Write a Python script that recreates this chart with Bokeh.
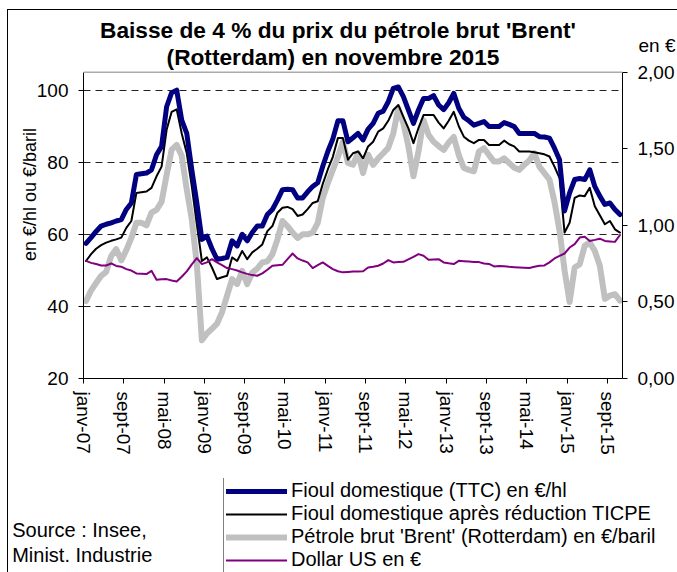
from bokeh.plotting import figure
from bokeh.layouts import column
from bokeh.models import (Range1d, LinearAxis, FixedTicker, CustomJSTickFormatter,
                          Label, Legend, LegendItem, ColumnDataSource, Span)
from bokeh.embed import file_html
from bokeh.resources import INLINE

# ---------------- data (monthly, janv-07 .. nov-15) ----------------
tick_positions = [0, 8, 16, 24, 32, 40, 48, 56, 64, 72, 80, 88, 96, 104]
tick_labels = ["janv-07", "sept-07", "mai-08", "janv-09", "sept-09", "mai-10",
               "janv-11", "sept-11", "mai-12", "janv-13", "sept-13", "mai-14",
               "janv-15", "sept-15"]

fioul_ttc = [57.5, 59.1, 60.8, 62.3, 62.8, 63.2, 63.7, 64.1, 66.9, 68.7,
             76.6, 76.8, 77.0, 77.9, 82.1, 84.4, 95.4, 99.3, 100.0, 91.7,
             88.0, 77.9, 68.7, 58.6, 59.5, 56.0, 53.1, 53.3, 53.6, 58.2,
             56.8, 60.0, 58.2, 60.5, 62.3, 62.3, 65.5, 66.9, 69.5, 72.4,
             72.5, 72.4, 70.1, 70.1, 71.8, 73.3, 74.3, 78.9, 83.0, 86.5,
             91.5, 91.5, 85.7, 86.8, 88.0, 86.2, 89.2, 90.8, 93.6, 94.2,
             96.8, 100.5, 100.9, 98.2, 94.5, 90.8, 94.5, 97.7, 97.7, 98.5,
             95.9, 94.6, 96.5, 99.1, 95.0, 92.5, 91.5, 90.3, 90.8, 91.3,
             89.9, 89.9, 89.9, 91.0, 90.5, 89.9, 88.0, 88.0, 88.0, 88.0,
             87.1, 87.0, 86.7, 83.9, 80.7, 66.5, 71.5, 75.2, 75.5, 75.2,
             77.9, 73.3, 70.6, 68.3, 68.7, 66.9, 65.5]

fioul_reduc = [52.6, 54.5, 56.0, 57.0, 57.7, 58.2, 58.6, 59.1, 61.8, 63.7,
               71.5, 71.7, 71.9, 72.9, 76.1, 78.8, 89.0, 94.0, 94.7, 88.0,
               82.5, 73.3, 62.8, 52.6, 53.6, 50.8, 47.6, 48.1, 48.5, 53.6,
               52.6, 55.4, 53.1, 55.0, 56.0, 57.2, 60.9, 62.3, 66.0, 67.4,
               67.6, 67.0, 65.1, 65.5, 67.0, 68.7, 69.2, 74.0, 78.0, 81.5,
               86.7, 86.7, 80.7, 82.5, 83.0, 81.1, 84.4, 85.7, 88.5, 89.4,
               91.5, 94.5, 95.9, 92.6, 89.4, 85.3, 89.5, 93.1, 93.1, 93.1,
               91.0, 89.4, 91.5, 94.0, 90.0, 87.1, 86.0, 85.3, 86.2, 86.2,
               84.8, 84.8, 84.8, 86.0, 85.0, 84.4, 83.0, 83.0, 83.0, 82.8,
               82.5, 82.2, 81.6, 78.8, 75.6, 60.5, 63.2, 70.1, 70.8, 70.6,
               72.9, 67.8, 65.3, 62.8, 63.7, 61.4, 60.5]

brent = [41.5, 44.4, 46.5, 48.5, 49.6, 54.0, 55.9, 52.8, 55.6, 59.0,
         63.2, 63.2, 62.5, 66.0, 66.8, 69.0, 76.5, 83.5, 84.8, 81.8,
         72.4, 64.1, 51.7, 30.6, 32.5, 33.8, 35.2, 38.4, 43.0, 47.6,
         46.2, 49.9, 46.2, 49.4, 50.5, 52.2, 52.5, 54.5, 58.6, 63.7,
         62.3, 60.5, 59.0, 60.0, 60.0, 60.5, 63.2, 70.1, 74.2, 77.9,
         81.5, 85.7, 79.8, 79.3, 82.5, 77.0, 82.1, 79.3, 81.1, 82.5,
         84.0, 88.0, 95.0, 90.8, 84.4, 76.1, 83.0, 91.7, 87.6, 85.7,
         84.5, 83.4, 85.5, 87.0, 82.0, 78.4, 77.9, 77.5, 83.0, 83.9,
         82.0, 80.2, 80.2, 81.1, 79.8, 78.5, 77.9, 79.3, 80.5, 82.5,
         78.8, 77.0, 75.2, 69.0, 61.0, 50.0, 41.2, 50.8, 51.7, 56.8,
         57.7, 55.4, 51.3, 42.1, 43.0, 43.4, 41.6]

dollar = [0.768, 0.755, 0.747, 0.738, 0.738, 0.751, 0.735, 0.730, 0.714, 0.705,
          0.686, 0.684, 0.682, 0.703, 0.645, 0.648, 0.649, 0.640, 0.634, 0.664,
          0.699, 0.745, 0.786, 0.747, 0.758, 0.779, 0.758, 0.740, 0.721, 0.714,
          0.705, 0.693, 0.683, 0.675, 0.671, 0.686, 0.710, 0.736, 0.740, 0.742,
          0.779, 0.816, 0.784, 0.770, 0.758, 0.721, 0.740, 0.758, 0.735, 0.714,
          0.700, 0.693, 0.696, 0.699, 0.699, 0.700, 0.725, 0.730, 0.736, 0.751,
          0.773, 0.758, 0.760, 0.762, 0.778, 0.794, 0.812, 0.801, 0.775, 0.777,
          0.779, 0.758, 0.752, 0.747, 0.768, 0.766, 0.764, 0.760, 0.760, 0.751,
          0.748, 0.732, 0.735, 0.733, 0.729, 0.727, 0.725, 0.723, 0.721, 0.730,
          0.736, 0.738, 0.758, 0.784, 0.801, 0.816, 0.855, 0.877, 0.920, 0.926,
          0.898, 0.905, 0.913, 0.898, 0.895, 0.892, 0.937]

left_min, left_max = 20, 105
usd_min, usd_max = 0.0, 2.0

n_months = len(fioul_ttc)
x_pos = [i + 0.5 for i in range(n_months)]   # centre of each monthly category

src = ColumnDataSource(dict(x=x_pos, ttc=fioul_ttc, reduc=fioul_reduc,
                            brent=brent, usd=dollar))

FONT = "Liberation Sans"

# ---------------- layout constants (px) ----------------
W = 669
H_MAIN = 468
H_BOT = 94
FRAME_L = 75
FRAME_R = 55
FRAME_H = 370          # frame from canvas top to the x axis
PLOT_TOP = 62          # top of the visible plot area inside the frame
plot_h = FRAME_H - PLOT_TOP
frame_w = W - FRAME_L - FRAME_R

# ranges extended above the plot area so the title can live inside the frame
y_top = left_max + PLOT_TOP * (left_max - left_min) / plot_h
usd_top = usd_max + PLOT_TOP * (usd_max - usd_min) / plot_h

p = figure(width=W, height=H_MAIN,
           x_range=Range1d(0, n_months), y_range=Range1d(left_min, y_top),
           output_backend="svg", toolbar_location=None, title=None,
           min_border_left=FRAME_L, min_border_right=FRAME_R,
           min_border_top=0, min_border_bottom=H_MAIN - FRAME_H)
p.frame_align = False
p.extra_y_ranges = {"usd": Range1d(usd_min, usd_top)}
p.outline_line_color = None
p.background_fill_color = "white"
p.border_fill_color = "white"

p.xgrid.visible = False
p.ygrid[0].ticker = FixedTicker(ticks=[40, 60, 80, 100])
p.ygrid[0].grid_line_color = "#222222"
p.ygrid[0].grid_line_dash = "7 5"
p.ygrid[0].grid_line_width = 1

# top border of the plot area
p.add_layout(Span(location=left_max, dimension="width", line_color="#808080", line_width=1))

def style_axis(ax):
    ax.axis_line_color = "black"
    ax.axis_line_width = 1
    ax.major_tick_line_color = "black"
    ax.major_tick_out = 5
    ax.major_tick_in = 0
    ax.minor_tick_line_color = None
    ax.major_label_text_font = FONT
    ax.major_label_text_font_size = "19px"
    ax.major_label_text_color = "black"

ly = p.yaxis[0]
ly.ticker = FixedTicker(ticks=[20, 40, 60, 80, 100])
ly.bounds = (left_min, left_max)
style_axis(ly)
ly.major_label_standoff = 10
ly.axis_label = "en €/hl ou €/baril"
ly.axis_label_text_font = FONT
ly.axis_label_text_font_size = "18px"
ly.axis_label_text_font_style = "normal"
ly.axis_label_text_color = "black"
ly.axis_label_standoff = -6

ry = LinearAxis(y_range_name="usd", bounds=(usd_min, usd_max),
                ticker=FixedTicker(ticks=[0, 0.5, 1, 1.5, 2]),
                formatter=CustomJSTickFormatter(code="return tick.toFixed(2).replace('.', ',');"))
style_axis(ry)
ry.major_label_standoff = 10
p.add_layout(ry, "right")

bx = p.xaxis[0]
bx.ticker = FixedTicker(ticks=tick_positions)
bx.major_label_overrides = {pos: lab for pos, lab in zip(tick_positions, tick_labels)}
style_axis(bx)
bx.major_label_orientation = "vertical"
bx.major_label_standoff = 8

STYLE_TTC = dict(line_color="#000080", line_width=5, line_join="round", line_cap="round")
STYLE_REDUC = dict(line_color="black", line_width=2, line_join="round", line_cap="round")
STYLE_BRENT = dict(line_color="#C0C0C0", line_width=6, line_join="round", line_cap="round")
STYLE_USD = dict(line_color="#800080", line_width=2, line_join="round", line_cap="round")

p.line("x", "brent", source=src, **STYLE_BRENT)
p.line("x", "reduc", source=src, **STYLE_REDUC)
p.line("x", "ttc", source=src, **STYLE_TTC)
p.line("x", "usd", source=src, y_range_name="usd", **STYLE_USD)

def mk_label(text, x, y, size, align="left", bold=False, units="screen"):
    return Label(x=x, y=y, x_units=units, y_units=units, text=text,
                 text_font=FONT, text_font_size=size,
                 text_font_style="bold" if bold else "normal",
                 text_color="black", text_align=align, text_baseline="middle")

# title inside the (extended) frame, screen offsets from the frame's bottom-left
p.add_layout(mk_label("Baisse de 4 % du prix du pétrole brut 'Brent'", 254.5, FRAME_H - 21, "22.7px", "center", True))
p.add_layout(mk_label("(Rotterdam) en novembre 2015", 249.5, FRAME_H - 48, "22.7px", "center", True))

# "en €" unit of the right axis, placed in a side panel with data coordinates
en_x = (667 - FRAME_L) * n_months / frame_w
en_y = left_max + (PLOT_TOP - 35) * (left_max - left_min) / plot_h
p.add_layout(mk_label("en €", en_x, en_y, "19px", "right", units="data"), "below")

# ---------------- bottom strip: legend + source ----------------
pb = figure(width=W, height=H_BOT, x_range=Range1d(0, W), y_range=Range1d(0, H_BOT),
            output_backend="svg", toolbar_location=None, title=None,
            x_axis_type=None, y_axis_type=None,
            min_border=0, min_border_left=0, min_border_right=0,
            min_border_top=0, min_border_bottom=0)
pb.frame_align = False
pb.outline_line_color = None
pb.xgrid.visible = False
pb.ygrid.visible = False
pb.background_fill_color = "white"
pb.border_fill_color = "white"
# legend proxies: same series, mapped onto a range far outside this strip
pb.extra_y_ranges = {"off": Range1d(1000, 1100)}
l_ttc = pb.line("x", "ttc", source=src, y_range_name="off", **STYLE_TTC)
l_reduc = pb.line("x", "reduc", source=src, y_range_name="off", **STYLE_REDUC)
l_brent = pb.line("x", "brent", source=src, y_range_name="off", **STYLE_BRENT)
l_usd = pb.line("x", "usd", source=src, y_range_name="off", **STYLE_USD)

legend = Legend(items=[
    LegendItem(label="Fioul domestique (TTC) en €/hl", renderers=[l_ttc]),
    LegendItem(label="Fioul domestique après réduction TICPE", renderers=[l_reduc]),
    LegendItem(label="Pétrole brut 'Brent' (Rotterdam) en €/baril", renderers=[l_brent]),
    LegendItem(label="Dollar US en €", renderers=[l_usd]),
], location=(215, -2), orientation="vertical",
   label_text_font=FONT, label_text_font_size="20px", label_text_color="black",
   glyph_width=61, glyph_height=20, label_height=20, label_standoff=4,
   spacing=-2, padding=2, margin=0, label_width=430,
   border_line_color="black", border_line_width=1,
   background_fill_color="white", background_fill_alpha=1.0)
pb.add_layout(legend, "center")

pb.add_layout(mk_label("Source : Insee,", 3.7, 43, "20px"))
pb.add_layout(mk_label("Minist. Industrie", 3.7, 18, "20px"))

layout = column(p, pb, spacing=0, margin=(9, 0, 0, 7),
                styles={"border-left": "1px solid black", "border-top": "1px solid black"})

open("out.html", "w").write(file_html(layout, INLINE))
